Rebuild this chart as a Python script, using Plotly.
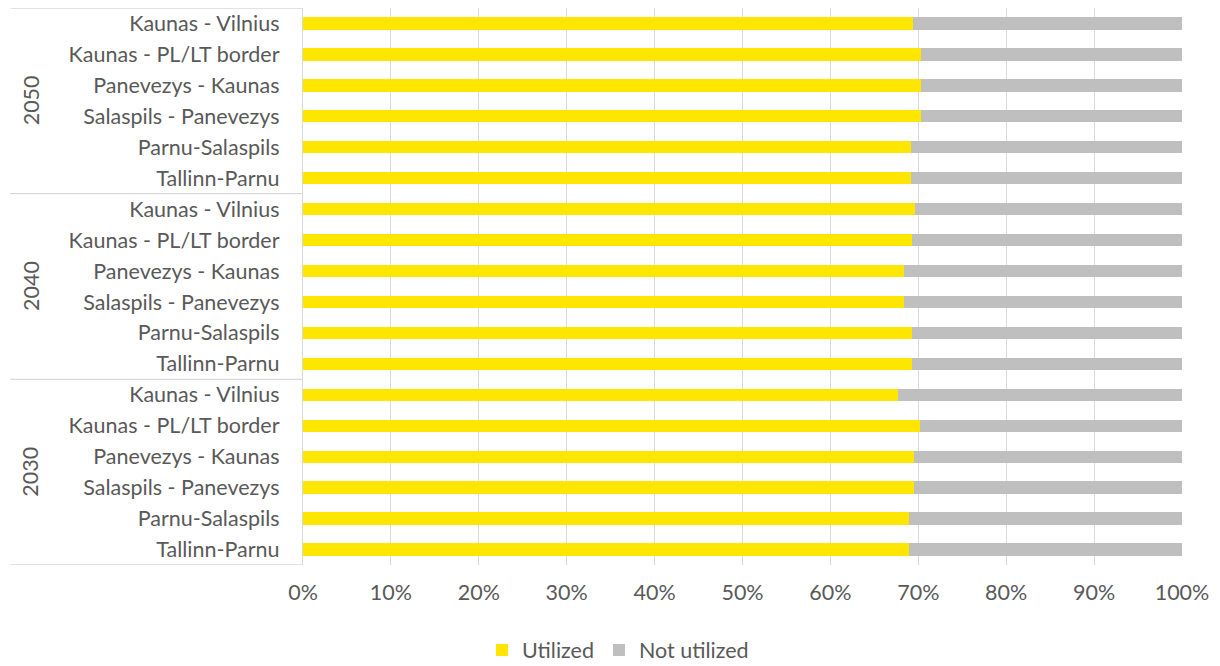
import plotly.graph_objects as go

years = ["2030", "2040", "2050"]
routes = ["Tallinn-Parnu", "Parnu-Salaspils", "Salaspils - Panevezys",
          "Panevezys - Kaunas", "Kaunas - PL/LT border", "Kaunas - Vilnius"]

utilized_2030 = [0.689, 0.689, 0.695, 0.695, 0.702, 0.677]
utilized_2040 = [0.693, 0.693, 0.684, 0.684, 0.693, 0.696]
utilized_2050 = [0.692, 0.692, 0.703, 0.703, 0.703, 0.694]

x_ticks = [0, 0.1, 0.2, 0.3, 0.4, 0.5, 0.6, 0.7, 0.8, 0.9, 1.0]

cats, labels, util = [], [], []
for yr, vals in zip(years, [utilized_2030, utilized_2040, utilized_2050]):
    for r, v in zip(routes, vals):
        cats.append(f"{yr}|{r}")
        labels.append(r)
        util.append(v)
not_util = [1 - v for v in util]

FONT = "Lato"
TXT = "#595959"
FS = 21.5

fig = go.Figure()
fig.add_trace(go.Bar(y=cats, x=util, orientation="h", name="Utilized",
                     marker=dict(color="#FFE600", line=dict(width=0))))
fig.add_trace(go.Bar(y=cats, x=not_util, orientation="h", name="Not utilized",
                     marker=dict(color="#BFBFBF", line=dict(width=0))))

n = len(routes)
# group separators (multi-level category axis style)
for k in range(len(years) + 1):
    fig.add_shape(type="line", xref="paper", yref="y",
                  x0=-0.333, x1=0, y0=k * n - 0.5, y1=k * n - 0.5,
                  line=dict(color="#D9D9D9", width=1.3))
for i, yr in enumerate(years):
    fig.add_annotation(text=yr, xref="paper", yref="y", x=-0.31, xanchor="center",
                       y=i * n + (n - 1) / 2, yanchor="middle",
                       textangle=-90, showarrow=False,
                       font=dict(family=FONT, size=FS, color=TXT))

fig.update_layout(
    barmode="stack", bargap=0.6,
    width=1220, height=666,
    margin=dict(l=295, r=46, t=0, b=109),
    paper_bgcolor="white", plot_bgcolor="white",
    font=dict(family=FONT, color=TXT, size=FS),
    showlegend=True,
    legend=dict(orientation="h", xref="container", yref="container",
                x=0.5, xanchor="center", y=0.036, yanchor="middle",
                font=dict(family=FONT, size=FS, color=TXT),
                traceorder="normal", itemwidth=30),
    xaxis=dict(range=[0, 1], tickvals=x_ticks, tickformat=".0%",
               showgrid=True, gridcolor="#D9D9D9", gridwidth=1.3,
               zeroline=False, showline=False, ticks="",
               ticklabelstandoff=12,
               tickfont=dict(family=FONT, size=FS, color=TXT)),
    yaxis=dict(type="category", categoryorder="array", categoryarray=cats,
               tickvals=cats, ticktext=labels, range=[-0.5, len(cats) - 0.5],
               showline=True, linecolor="#D9D9D9", linewidth=1.3,
               showgrid=False, ticks="", ticklabelstandoff=18,
               tickfont=dict(family=FONT, size=FS, color=TXT)),
)

fig.write_html("out.html")
